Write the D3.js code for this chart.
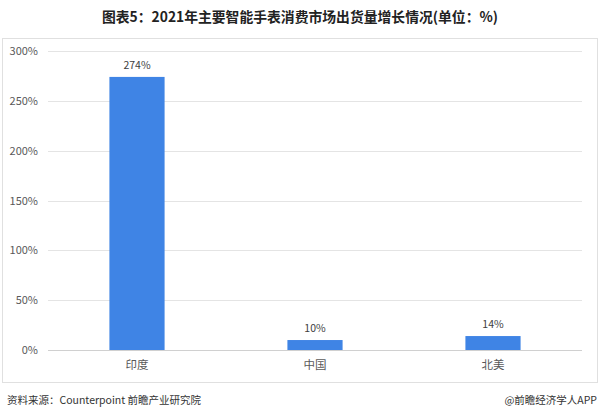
<!DOCTYPE html>
<html>
<head>
<meta charset="utf-8">
<script src="https://cdn.jsdelivr.net/npm/d3@7"></script>
<style>
body{margin:0;background:#fff;}
svg{display:block;font-family:"Noto Sans CJK SC","Noto Sans",sans-serif;}
</style>
</head>
<body>
<svg id="c" width="600" height="418"></svg>
<script>
const categories = ["印度", "中国", "北美"];
const values = [274, 10, 14];
const yTicks = [0, 50, 100, 150, 200, 250, 300];
const titleText = "图表5：2021年主要智能手表消费市场出货量增长情况(单位：%)";
const sourceText = "资料来源：Counterpoint 前瞻产业研究院";
const brandText = "@前瞻经济学人APP";

const svg = d3.select("#c");
const W = 600, H = 418;
const m = {left: 48, right: 18, top: 51, bottom: 68};

svg.append("text").attr("x", 300).attr("y", 22).attr("text-anchor", "middle")
  .attr("font-size", 14).attr("font-weight", "bold").attr("fill", "#222")
  .attr("textLength", 396).attr("lengthAdjust", "spacingAndGlyphs").text(titleText);

svg.append("rect").attr("x", 2.5).attr("y", 38.5).attr("width", 595).attr("height", 344)
  .attr("fill", "none").attr("stroke", "#e0e0e0");

const x = d3.scaleBand().domain(categories).range([m.left, W - m.right]).paddingInner(0.69).paddingOuter(0.345);
const y = d3.scaleLinear().domain([0, 300]).range([H - m.bottom, m.top]);

const g = svg.append("g");
g.selectAll("line.grid").data(yTicks).join("line").attr("class", "grid")
  .attr("x1", m.left).attr("x2", W - m.right)
  .attr("y1", d => Math.round(y(d)) + 0.5).attr("y2", d => Math.round(y(d)) + 0.5)
  .attr("stroke", d => d === 0 ? "#d0d0d0" : "#e4e4e4");

const yAxis = d3.axisLeft(y).tickValues(yTicks).tickFormat(d => d + "%").tickSize(0).tickPadding(10);
const ya = svg.append("g").attr("transform", `translate(${m.left},0)`).call(yAxis);
ya.select(".domain").remove();
ya.selectAll("text").attr("font-size", 11).attr("fill", "#595959").attr("font-family", "'Noto Sans CJK SC',sans-serif");

g.selectAll("rect.bar").data(values).join("rect").attr("class", "bar")
  .attr("x", (d, i) => x(categories[i])).attr("width", x.bandwidth())
  .attr("y", d => y(d)).attr("height", d => y(0) - y(d))
  .attr("fill", "#3f84e5");

g.selectAll("text.lbl").data(values).join("text").attr("class", "lbl")
  .attr("x", (d, i) => x(categories[i]) + x.bandwidth() / 2)
  .attr("y", d => y(d) - 8).attr("text-anchor", "middle")
  .attr("font-size", 10.5).attr("fill", "#404040").text(d => d + "%");

const xAxis = d3.axisBottom(x).tickSize(0).tickPadding(11);
const xa = svg.append("g").attr("transform", `translate(0,${y(0)})`).call(xAxis);
xa.select(".domain").remove();
xa.selectAll("text").attr("font-size", 11.5).attr("fill", "#595959").attr("font-family", "'Noto Sans CJK SC',sans-serif");

svg.append("text").attr("x", 7).attr("y", 404).attr("font-size", 10.5).attr("fill", "#333").text(sourceText);
svg.append("text").attr("x", 597).attr("y", 404).attr("text-anchor", "end").attr("font-size", 10.5).attr("fill", "#333").text(brandText);
</script>
</body>
</html>
